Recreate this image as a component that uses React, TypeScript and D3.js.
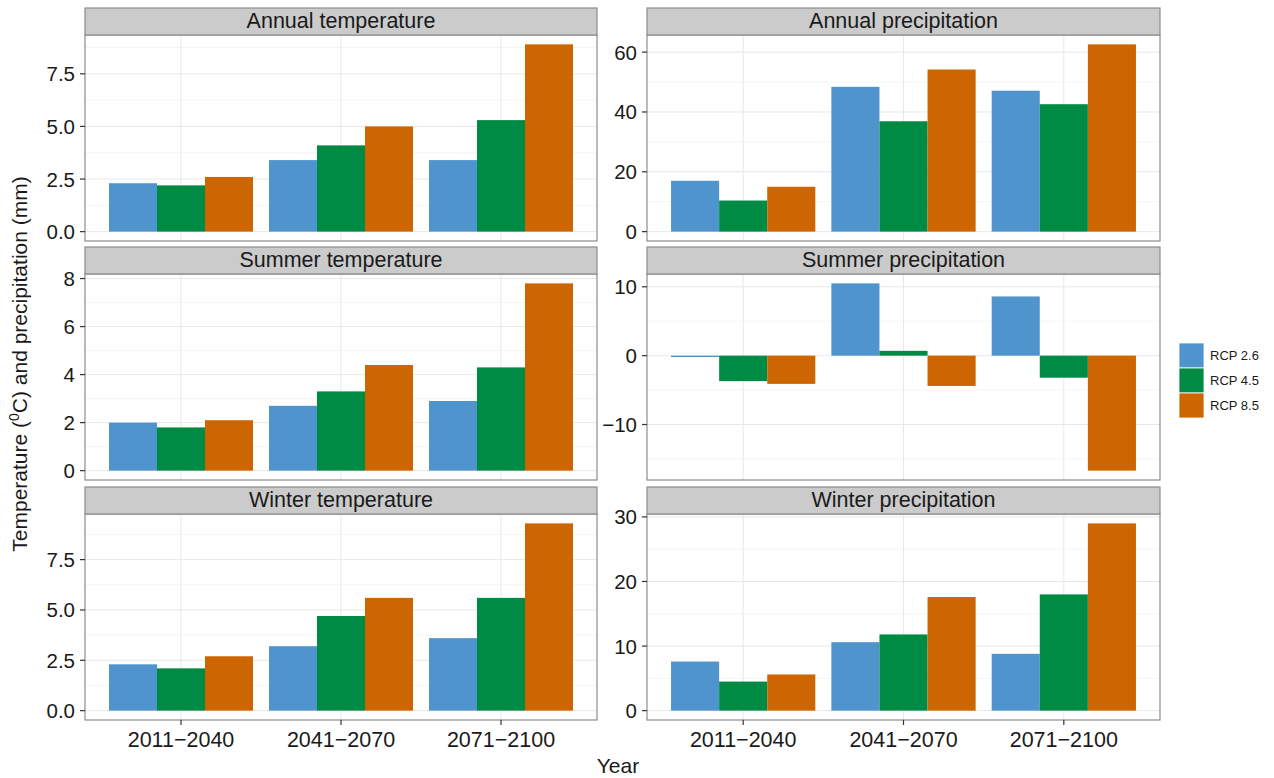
import React from "react";
import * as d3 from "d3";

// Periods, scenarios and colours
const periods = ["2011−2040", "2041−2070", "2071−2100"];
const scenarios = ["RCP 2.6", "RCP 4.5", "RCP 8.5"];
const scenarioColors = ["#4F94CD", "#008B45", "#CD6600"];

// Change per period; each inner list follows the scenario order
const annualTemperature = [[2.3, 2.2, 2.6], [3.4, 4.1, 5.0], [3.4, 5.3, 8.9]];
const annualPrecipitation = [[17.0, 10.4, 15.0], [48.4, 36.9, 54.2], [47.1, 42.6, 62.6]];
const summerTemperature = [[2.0, 1.8, 2.1], [2.7, 3.3, 4.4], [2.9, 4.3, 7.8]];
const summerPrecipitation = [[-0.2, -3.7, -4.1], [10.5, 0.7, -4.4], [8.6, -3.2, -16.7]];
const winterTemperature = [[2.3, 2.1, 2.7], [3.2, 4.7, 5.6], [3.6, 5.6, 9.3]];
const winterPrecipitation = [[7.6, 4.5, 5.6], [10.6, 11.8, 17.6], [8.8, 18.0, 29.0]];

// Axis breaks per facet
const annualTemperatureTicks = [0, 2.5, 5, 7.5];
const annualPrecipitationTicks = [0, 20, 40, 60];
const summerTemperatureTicks = [0, 2, 4, 6, 8];
const summerPrecipitationTicks = [-10, 0, 10];
const winterTemperatureTicks = [0, 2.5, 5, 7.5];
const winterPrecipitationTicks = [0, 10, 20, 30];

const facets = [
  { title: "Annual temperature", values: annualTemperature, ticks: annualTemperatureTicks, fmt: d3.format(".1f") },
  { title: "Annual precipitation", values: annualPrecipitation, ticks: annualPrecipitationTicks, fmt: d3.format("d") },
  { title: "Summer temperature", values: summerTemperature, ticks: summerTemperatureTicks, fmt: d3.format("d") },
  { title: "Summer precipitation", values: summerPrecipitation, ticks: summerPrecipitationTicks, fmt: d3.format("d") },
  { title: "Winter temperature", values: winterTemperature, ticks: winterTemperatureTicks, fmt: d3.format(".1f") },
  { title: "Winter precipitation", values: winterPrecipitation, ticks: winterPrecipitationTicks, fmt: d3.format("d") },
];

const FONT = "'Liberation Sans', Arial, Helvetica, sans-serif";
const colX = [[85, 597], [647, 1160]];
const rowTop = [8, 247, 487];
const STRIP_H = 27;
const PANEL_H = 206;

function Facet({ facet, col, row }: { facet: any; col: number; row: number }) {
  const [x0, x1] = colX[col];
  const stripY = rowTop[row];
  const y0 = stripY + STRIP_H;
  const y1 = y0 + PANEL_H;

  const flat: number[] = facet.values.flat();
  const lo = Math.min(0, d3.min(flat) as number);
  const hi = Math.max(0, d3.max(flat) as number);
  const pad = (hi - lo) * 0.05;
  const y = d3.scaleLinear().domain([lo - pad, hi + pad]).range([y1, y0]);

  // discrete positions 1..3 with 0.6 expansion on each side
  const x = d3.scaleLinear().domain([0.4, periods.length + 0.6]).range([x0, x1]);
  const groupWidth = 0.9;
  const barWidth = groupWidth / scenarios.length;

  const ticks: number[] = facet.ticks;
  const step = ticks[1] - ticks[0];
  const minor: number[] = [];
  for (let i = -1; i < ticks.length; i++) {
    const m = ticks[0] + step * i + step / 2;
    if (m >= y.domain()[0] && m <= y.domain()[1]) minor.push(m);
  }

  const showX = row === rowTop.length - 1;
  const fmtTick = (v: number) => facet.fmt(v).replace("-", "−");

  return (
    <g>
      <rect x={x0} y={y0} width={x1 - x0} height={PANEL_H} fill="#fff" />
      {minor.map((m) => (
        <line key={"mi" + m} x1={x0} x2={x1} y1={y(m)} y2={y(m)} stroke="#F5F5F5" strokeWidth={1} />
      ))}
      {ticks.map((t) => (
        <line key={"ma" + t} x1={x0} x2={x1} y1={y(t)} y2={y(t)} stroke="#E8E8E8" strokeWidth={1} />
      ))}
      {periods.map((p, i) => (
        <line key={"vx" + p} x1={x(i + 1)} x2={x(i + 1)} y1={y0} y2={y1} stroke="#E8E8E8" strokeWidth={1} />
      ))}
      {facet.values.map((group: number[], i: number) =>
        group.map((v: number, j: number) => {
          const bx = x(i + 1 - groupWidth / 2 + j * barWidth);
          const bw = x(barWidth) - x(0);
          const top = y(Math.max(0, v));
          const bottom = y(Math.min(0, v));
          return (
            <rect key={`b${i}-${j}`} x={bx} y={top} width={bw} height={Math.max(bottom - top, 1)} fill={scenarioColors[j]} />
          );
        })
      )}
      <rect x={x0} y={y0} width={x1 - x0} height={PANEL_H} fill="none" stroke="#8C8C8C" strokeWidth={1.2} />
      <rect x={x0} y={stripY} width={x1 - x0} height={STRIP_H} fill="#CBCBCB" stroke="#8C8C8C" strokeWidth={1.2} />
      <text x={(x0 + x1) / 2} y={stripY + 20} textAnchor="middle" fontFamily={FONT} fontSize={21.5} fill="#1a1a1a">
        {facet.title}
      </text>
      {ticks.map((t) => (
        <g key={"yt" + t}>
          <line x1={x0 - 5} x2={x0} y1={y(t)} y2={y(t)} stroke="#333" strokeWidth={1.2} />
          <text x={x0 - 10} y={y(t) + 7.5} textAnchor="end" fontFamily={FONT} fontSize={20.5} fill="#1a1a1a">
            {fmtTick(t)}
          </text>
        </g>
      ))}
      {showX &&
        periods.map((p, i) => (
          <g key={"xt" + p}>
            <line x1={x(i + 1)} x2={x(i + 1)} y1={y1} y2={y1 + 5} stroke="#333" strokeWidth={1.2} />
            <text x={x(i + 1)} y={y1 + 27} textAnchor="middle" fontFamily={FONT} fontSize={21.5} fill="#1a1a1a">
              {p}
            </text>
          </g>
        ))}
    </g>
  );
}

export default function App() {
  return (
    <svg width={1274} height={778} style={{ position: "absolute", left: 0, top: 0, background: "#fff" }}>
      <rect width={1274} height={778} fill="#fff" />
      {facets.map((f, k) => (
        <Facet key={f.title} facet={f} col={k % 2} row={Math.floor(k / 2)} />
      ))}
      <text transform="translate(27,364) rotate(-90)" textAnchor="middle" fontFamily={FONT} fontSize={21} fill="#1a1a1a">
        <tspan>Temperature (</tspan>
        <tspan dy={-8} fontSize={14}>0</tspan>
        <tspan dy={8}>C) and precipitation (mm)</tspan>
      </text>
      <text x={618} y={773} textAnchor="middle" fontFamily={FONT} fontSize={21} fill="#1a1a1a">
        Year
      </text>
      {scenarios.map((s, j) => (
        <g key={s}>
          <rect x={1179} y={343 + j * 25} width={25} height={25} fill={scenarioColors[j]} stroke="#fff" strokeWidth={0.8} />
          <text x={1210} y={343 + j * 25 + 17} fontFamily={FONT} fontSize={13} fill="#1a1a1a">
            {s}
          </text>
        </g>
      ))}
    </svg>
  );
}
